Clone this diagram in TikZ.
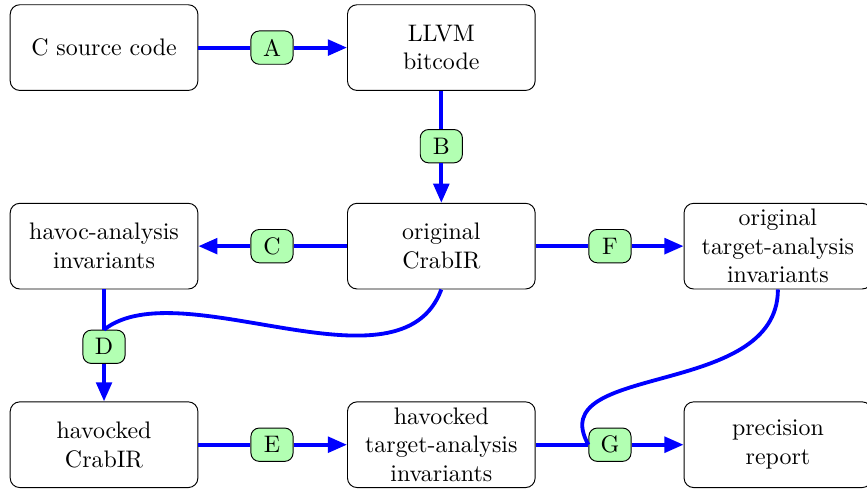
\documentclass[tikz,border=0pt]{standalone}
\usepackage{xcolor}
\usetikzlibrary{arrows, arrows.meta}

\tikzset{
  stage/.style={draw, rounded corners=4pt, align=center, inner ysep=2pt,
    minimum width=2.76cm, minimum height=1.26cm},
  tag/.style={draw, rounded corners=3.5pt, fill=green!30,
    minimum width=0.62cm, minimum height=0.49cm, inner sep=1pt},
  flow/.style={draw=blue, ultra thick},
  flowto/.style={flow, -{Triangle[length=8pt, width=6.5pt]}}
}

\begin{document}
\begin{tikzpicture}
\useasboundingbox (0, 0) rectangle (12.75, -7.206);

% stages
\node[stage] (src) at (1.53, -0.70) {C source code};
\node[stage] (llvm) at (6.49, -0.70) {LLVM\\bitcode};
\node[stage] (havinv) at (1.53, -3.62) {havoc-analysis\\invariants};
\node[stage] (crab) at (6.49, -3.62) {original\\CrabIR};
\node[stage] (otarget) at (11.44, -3.62) {original\\target-analysis\\invariants};
\node[stage] (havcrab) at (1.53, -6.54) {havocked\\CrabIR};
\node[stage] (htarget) at (6.49, -6.54) {havocked\\target-analysis\\invariants};
\node[stage] (report) at (11.44, -6.54) {precision\\report};

% step tags
\node[tag] (A) at (4.0, -0.70) {A};
\node[tag] (B) at (6.49, -2.15) {B};
\node[tag] (C) at (4.0, -3.62) {C};
\node[tag] (D) at (1.53, -5.10) {D};
\node[tag] (E) at (4.0, -6.54) {E};
\node[tag] (F) at (8.97, -3.62) {F};
\node[tag] (G) at (8.97, -6.54) {G};

% flows
\draw[flow] (src) -- (A);
\draw[flowto] (A) -- (llvm);
\draw[flow] (llvm) -- (B);
\draw[flowto] (B) -- (crab);
\draw[flow] (crab) -- (C);
\draw[flowto] (C) -- (havinv);
\draw[flow] (crab) -- (F);
\draw[flowto] (F) -- (otarget);
\draw[flow] (havinv) -- (D);
\draw[flow] (crab.south) .. controls +(-0.6, -1.62) and +(1.12, 0.88) .. (D.north);
\draw[flowto] (D) -- (havcrab);
\draw[flow] (havcrab) -- (E);
\draw[flowto] (E) -- (htarget);
\draw[flow] (htarget) -- (G);
\draw[flow] (otarget.south) .. controls +(0, -1.62) and +(-0.69, 1.22) .. (G.west);
\draw[flowto] (G) -- (report);
\end{tikzpicture}
\end{document}
